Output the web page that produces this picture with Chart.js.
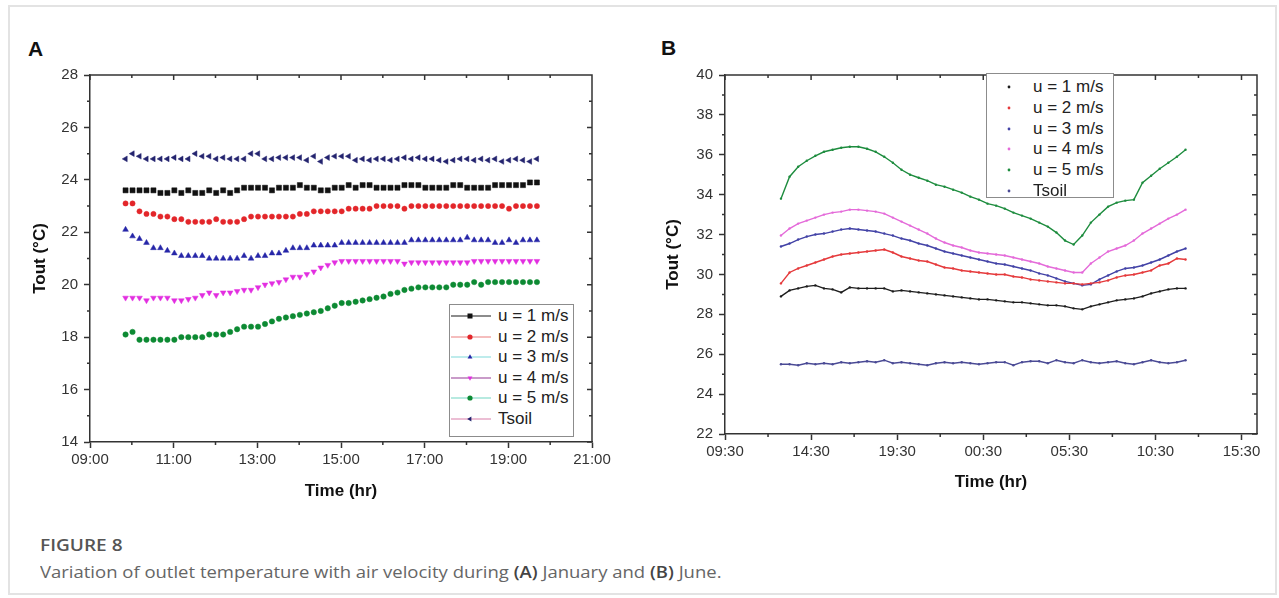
<!DOCTYPE html>
<html>
<head>
<meta charset="utf-8">
<title>Figure 8 - outlet temperature vs air velocity</title>
<script src="https://cdn.jsdelivr.net/npm/chart.js@4.4.1/dist/chart.umd.min.js"></script>
<style>
  html, body { margin: 0; padding: 0; background: #fff; }
  body { width: 1279px; height: 598px; position: relative; overflow: hidden; font-family: 'Liberation Sans', Arial, sans-serif; }
  .card { position: absolute; left: 8px; top: 5px; width: 1269px; height: 590px; border: 2px solid #e3e3e3; box-sizing: border-box; }
  .panel-label { position: absolute; font-weight: bold; font-size: 21px; color: #111; line-height: 1; }
  canvas { position: absolute; }
  .legend { position: absolute; border: 1px solid #8c8c8c; background: #fff; box-sizing: border-box; font-size: 17px; color: #222; }
  .legend .row { height: 20.5px; display: flex; align-items: center; white-space: nowrap; }
  .legend svg { flex: none; }
  .caption-title, .caption { position: absolute; left: 40px; font-family: 'Open Sans', 'Noto Sans', sans-serif; line-height: 20px; transform: scaleX(1.12); transform-origin: left center; white-space: nowrap; }
  .caption-title { top: 535px; font-weight: 600; font-size: 17px; color: #555; }
  .caption { top: 562px; font-size: 16.5px; color: #666; }
  .caption b { color: #444; font-weight: 600; }
</style>
</head>
<body>
<div class="card"></div>
<div class="panel-label" style="left:28px;top:38px">A</div>
<div class="panel-label" style="left:661px;top:37px">B</div>
<canvas id="chartA" width="610" height="450" style="left:20px;top:60px"></canvas>
<canvas id="chartB" width="620" height="450" style="left:655px;top:60px"></canvas>
<div id="legendA" class="legend" style="left:449px;top:304px;width:125px;height:133px;padding-top:1px"></div>
<div id="legendB" class="legend" style="left:986px;top:73px;width:128px;height:125px;padding-top:3px"></div>
<div class="caption-title">FIGURE 8</div>
<div class="caption">Variation of outlet temperature with air velocity during <b>(A)</b> January and <b>(B)</b> June.</div>

<script>
// ---- data: (A) January, 10-min readings ----
const seriesLabels = ['u = 1 m/s', 'u = 2 m/s', 'u = 3 m/s', 'u = 4 m/s', 'u = 5 m/s', 'Tsoil'];

const timesA = [
  '09:51','10:01','10:11','10:21','10:31','10:41','10:51','11:01','11:11','11:21',
  '11:31','11:41','11:51','12:01','12:11','12:21','12:31','12:41','12:51','13:01',
  '13:11','13:21','13:31','13:41','13:51','14:01','14:11','14:21','14:31','14:41',
  '14:51','15:01','15:11','15:21','15:31','15:41','15:51','16:01','16:11','16:21',
  '16:31','16:41','16:51','17:01','17:11','17:21','17:31','17:41','17:51','18:01',
  '18:11','18:21','18:31','18:41','18:51','19:01','19:11','19:21','19:31','19:41'
];
const u1A = [23.6,23.6,23.6,23.6,23.6,23.5,23.5,23.6,23.5,23.6, 23.5,23.5,23.6,23.5,23.6,23.5,23.6,23.7,23.7,23.7,
             23.7,23.6,23.7,23.7,23.7,23.8,23.7,23.7,23.6,23.6, 23.7,23.7,23.8,23.7,23.8,23.8,23.7,23.7,23.7,23.7,
             23.8,23.8,23.8,23.7,23.7,23.7,23.7,23.8,23.8,23.7, 23.7,23.7,23.7,23.8,23.8,23.8,23.8,23.8,23.9,23.9];
const u2A = [23.1,23.1,22.8,22.7,22.7,22.6,22.6,22.5,22.5,22.4, 22.4,22.4,22.4,22.5,22.4,22.4,22.4,22.5,22.6,22.6,
             22.6,22.6,22.6,22.6,22.6,22.7,22.7,22.8,22.8,22.8, 22.8,22.8,22.9,22.9,22.9,22.9,23.0,23.0,23.0,23.0,
             22.9,23.0,23.0,23.0,23.0,23.0,23.0,23.0,23.0,23.0, 23.0,23.0,23.0,23.0,23.0,22.9,23.0,23.0,23.0,23.0];
const u3A = [22.1,21.85,21.75,21.6,21.4,21.4,21.3,21.2,21.1,21.1, 21.1,21.1,21.0,21.0,21.0,21.0,21.0,21.1,21.0,21.1,
             21.1,21.2,21.2,21.3,21.4,21.4,21.4,21.5,21.5,21.5, 21.5,21.6,21.6,21.6,21.6,21.6,21.6,21.6,21.6,21.6,
             21.6,21.7,21.7,21.7,21.7,21.7,21.7,21.7,21.7,21.8, 21.7,21.7,21.7,21.6,21.6,21.7,21.6,21.7,21.7,21.7];
const u4A = [19.5,19.5,19.5,19.4,19.5,19.5,19.5,19.4,19.4,19.45, 19.5,19.6,19.7,19.6,19.7,19.7,19.75,19.8,19.8,19.9,
             20.0,20.05,20.1,20.2,20.3,20.3,20.4,20.5,20.65,20.75, 20.85,20.9,20.9,20.9,20.9,20.9,20.9,20.9,20.9,20.9,
             20.8,20.85,20.85,20.85,20.85,20.85,20.85,20.85,20.85,20.85, 20.9,20.9,20.9,20.9,20.9,20.9,20.9,20.9,20.9,20.9];
const u5A = [18.1,18.2,17.9,17.9,17.9,17.9,17.9,17.9,18.0,18.0, 18.0,18.0,18.1,18.1,18.1,18.2,18.3,18.4,18.4,18.4,
             18.5,18.6,18.7,18.75,18.8,18.85,18.9,18.95,19.0,19.1, 19.2,19.3,19.3,19.35,19.4,19.45,19.5,19.55,19.65,19.7,
             19.8,19.85,19.9,19.9,19.9,19.9,19.9,20.0,20.0,20.0, 20.1,20.0,20.1,20.1,20.1,20.1,20.1,20.1,20.1,20.1];
const soilA = [24.8,25.0,24.9,24.8,24.8,24.8,24.8,24.85,24.8,24.8, 25.0,24.9,24.9,24.8,24.85,24.8,24.8,24.8,25.0,25.0,
               24.8,24.8,24.85,24.85,24.85,24.85,24.75,24.9,24.7,24.85, 24.9,24.9,24.9,24.75,24.8,24.75,24.8,24.8,24.75,24.8,
               24.85,24.8,24.85,24.8,24.8,24.75,24.7,24.75,24.8,24.8, 24.75,24.8,24.75,24.8,24.7,24.75,24.8,24.75,24.7,24.8];

// ---- data: (B) June, half-hourly readings (runs past midnight) ----
const timesB = [
  '12:45','13:15','13:45','14:15','14:45','15:15','15:45','16:15','16:45','17:15','17:45','18:15',
  '18:45','19:15','19:45','20:15','20:45','21:15','21:45','22:15','22:45','23:15','23:45','00:15',
  '00:45','01:15','01:45','02:15','02:45','03:15','03:45','04:15','04:45','05:15','05:45','06:15',
  '06:45','07:15','07:45','08:15','08:45','09:15','09:45','10:15','10:45','11:15','11:45','12:15'
];
const u1B = [28.9,29.2,29.3,29.4,29.45,29.3,29.25,29.1,29.35,29.3, 29.3,29.3,29.3,29.15,29.2,29.15,29.1,29.05,29.0,28.95,
             28.9,28.85,28.8,28.75,28.75,28.7,28.65,28.6,28.6,28.55, 28.5,28.45,28.45,28.4,28.3,28.25,28.4,28.5,28.6,28.7,
             28.75,28.8,28.9,29.05,29.15,29.25,29.3,29.3];
const u2B = [29.55,30.1,30.3,30.45,30.6,30.75,30.9,31.0,31.05,31.1, 31.15,31.2,31.25,31.1,30.9,30.8,30.7,30.65,30.5,30.35,
             30.3,30.2,30.15,30.1,30.05,30.0,30.0,29.9,29.85,29.75, 29.7,29.65,29.6,29.55,29.55,29.5,29.55,29.6,29.7,29.85,
             29.95,30.0,30.1,30.2,30.45,30.55,30.8,30.75];
const u3B = [31.4,31.55,31.75,31.9,32.0,32.05,32.15,32.25,32.3,32.25, 32.2,32.15,32.05,31.95,31.8,31.7,31.55,31.45,31.3,31.15,
             31.05,30.95,30.85,30.75,30.65,30.55,30.5,30.4,30.3,30.2, 30.05,29.95,29.8,29.65,29.55,29.45,29.5,29.75,29.95,30.15,
             30.3,30.35,30.45,30.6,30.75,30.95,31.15,31.3];
const u4B = [31.95,32.3,32.55,32.7,32.85,33.0,33.1,33.15,33.25,33.25, 33.2,33.15,33.05,32.85,32.65,32.45,32.25,32.05,31.8,31.6,
             31.45,31.35,31.2,31.1,31.05,31.0,30.95,30.85,30.75,30.65, 30.55,30.4,30.3,30.2,30.1,30.1,30.55,30.85,31.15,31.3,
             31.45,31.7,32.05,32.3,32.55,32.8,33.0,33.25];
const u5B = [33.8,34.9,35.4,35.7,35.95,36.15,36.25,36.35,36.4,36.4, 36.3,36.15,35.9,35.6,35.25,35.0,34.85,34.7,34.5,34.4,
             34.25,34.1,33.9,33.75,33.55,33.45,33.3,33.1,32.95,32.8, 32.6,32.4,32.1,31.7,31.5,31.95,32.6,33.0,33.4,33.6,
             33.7,33.75,34.6,34.95,35.3,35.6,35.9,36.25];
const soilB = [25.5,25.5,25.45,25.55,25.5,25.55,25.5,25.6,25.55,25.6, 25.65,25.6,25.7,25.55,25.6,25.55,25.5,25.45,25.55,25.6,
               25.55,25.6,25.55,25.5,25.55,25.6,25.6,25.45,25.6,25.65, 25.65,25.55,25.7,25.6,25.55,25.7,25.6,25.55,25.6,25.65,
               25.55,25.5,25.6,25.7,25.6,25.55,25.6,25.7];

// ---- axis ticks (hours; B continues past 24) ----
const xTicksA = [9, 11, 13, 15, 17, 19, 21];
const xMinorA = [10, 12, 14, 16, 18, 20];
const yTicksA = [14, 16, 18, 20, 22, 24, 26, 28];
const yMinorA = [15, 17, 19, 21, 23, 25, 27];
const xTicksB = [9.5, 14.5, 19.5, 24.5, 29.5, 34.5, 39.5];
const xMinorB = [12, 17, 22, 27, 32, 37];
const yTicksB = [22, 24, 26, 28, 30, 32, 34, 36, 38, 40];
const yMinorB = [23, 25, 27, 29, 31, 33, 35, 37, 39];

const FONT = "'Liberation Sans', Arial, sans-serif";

// marker styles per series for panel A (Origin-like symbols)
const markersA = [
  { color: '#111111', shape: 'rect', radius: 3.6, rotation: 0, legendLine: '#666666' },
  { color: '#e3262a', shape: 'circle', radius: 2.6, rotation: 0, legendLine: '#f2a7a7' },
  { color: '#2626a8', shape: 'triangle', radius: 3.3, rotation: 0, legendLine: '#a8e6e6' },
  { color: '#e22ee0', shape: 'triangle', radius: 3.3, rotation: 180, legendLine: '#b77ab7' },
  { color: '#0d8a33', shape: 'circle', radius: 2.7, rotation: 0, legendLine: '#9fe3d6' },
  { color: '#23236e', shape: 'triangle', radius: 3.3, rotation: 270, legendLine: '#e6a9c6' }
];
const colorsB = ['#1c1c1c', '#e5393b', '#4242a6', '#e46ad9', '#1d8c3e', '#4a4a95'];

function toHours(list) {
  let day = 0, prev = -1;
  return list.map(function (s) {
    const parts = s.split(':').map(Number);
    const v = parts[0] + parts[1] / 60;
    if (v + day < prev) day += 24;
    prev = v + day;
    return prev;
  });
}

function hhmm(h) {
  const t = Math.round(h * 60) % (24 * 60);
  return String(Math.floor(t / 60)).padStart(2, '0') + ':' + String(t % 60).padStart(2, '0');
}

function points(xs, ys) {
  return ys.map(function (y, i) { return { x: xs[i], y: y }; });
}

// frame: top/right edges, minor ticks outside, inward ticks on top/right
const frameTicks = {
  id: 'frameTicks',
  afterDraw(chart, args, o) {
    const ctx = chart.ctx, a = chart.chartArea;
    const x = chart.scales.x, y = chart.scales.y;
    const tick = function (x0, y0, x1, y1) { ctx.moveTo(x0, y0); ctx.lineTo(x1, y1); };
    ctx.save();
    ctx.strokeStyle = '#333';
    ctx.lineWidth = 1.5;
    ctx.beginPath();
    ctx.moveTo(a.left, a.top);
    ctx.lineTo(a.right, a.top);
    ctx.lineTo(a.right, a.bottom);
    o.xMinor.forEach(function (v) { const p = x.getPixelForValue(v); tick(p, a.bottom, p, a.bottom + 3); tick(p, a.top, p, a.top + 3); });
    o.xMajor.forEach(function (v) { const p = x.getPixelForValue(v); tick(p, a.top, p, a.top + 5); });
    o.yMinor.forEach(function (v) { const p = y.getPixelForValue(v); tick(a.left, p, a.left - 3, p); tick(a.right, p, a.right - 3, p); });
    o.yMajor.forEach(function (v) { const p = y.getPixelForValue(v); tick(a.right, p, a.right - 5, p); });
    ctx.stroke();
    ctx.restore();
  }
};

function makeChart(id, cfg) {
  return new Chart(document.getElementById(id), {
    type: 'scatter',
    data: { datasets: cfg.datasets },
    options: {
      responsive: false,
      animation: false,
      devicePixelRatio: 1,
      layout: { padding: cfg.padding },
      plugins: {
        legend: { display: false },
        tooltip: { enabled: false },
        frameTicks: { xMajor: cfg.xTicks, xMinor: cfg.xMinor, yMajor: cfg.yTicks, yMinor: cfg.yMinor }
      },
      scales: {
        x: {
          type: 'linear',
          min: cfg.xMin,
          max: cfg.xMax,
          afterBuildTicks: function (s) { s.ticks = cfg.xTicks.map(function (v) { return { value: v }; }); },
          afterFit: function (s) { s.height = cfg.xAxisHeight; },
          ticks: { callback: function (v) { return hhmm(v); }, color: '#333', font: { family: FONT, size: 15 }, padding: 3, maxRotation: 0, autoSkip: false },
          grid: { drawOnChartArea: false, tickLength: 6, tickColor: '#333', tickWidth: 1.5 },
          border: { color: '#333', width: 1.5 },
          title: { display: true, text: 'Time (hr)', color: '#111', font: { family: FONT, size: 17, weight: 'bold' }, padding: { top: 0, bottom: cfg.xTitlePad } }
        },
        y: {
          type: 'linear',
          min: cfg.yMin,
          max: cfg.yMax,
          afterBuildTicks: function (s) { s.ticks = cfg.yTicks.map(function (v) { return { value: v }; }); },
          afterFit: function (s) { s.width = 70; },
          ticks: { color: '#333', font: { family: FONT, size: 15 }, padding: 6 },
          grid: { drawOnChartArea: false, tickLength: 6, tickColor: '#333', tickWidth: 1.5 },
          border: { color: '#333', width: 1.5 },
          title: { display: true, text: 'Tout (°C)', color: '#111', font: { family: FONT, size: 17, weight: 'bold' }, padding: { top: cfg.yTitlePad, bottom: 0 } }
        }
      }
    },
    plugins: [frameTicks]
  });
}

// ---- panel A ----
const hoursA = toHours(timesA);
const valuesA = [u1A, u2A, u3A, u4A, u5A, soilA];
makeChart('chartA', {
  datasets: valuesA.map(function (vals, i) {
    const m = markersA[i];
    return {
      label: seriesLabels[i],
      data: points(hoursA, vals),
      showLine: false,
      pointStyle: m.shape,
      pointRadius: m.radius,
      pointRotation: m.rotation,
      pointBackgroundColor: m.color,
      pointBorderColor: m.color,
      pointBorderWidth: 0.5
    };
  }),
  xMin: 9, xMax: 21, xTicks: xTicksA, xMinor: xMinorA,
  yMin: 14, yMax: 28, yTicks: yTicksA, yMinor: yMinorA,
  padding: { top: 12, right: 38, left: 0, bottom: 0 },
  xAxisHeight: 68, xTitlePad: 8, yTitlePad: 10
});

// ---- panel B ----
const hoursB = toHours(timesB);
const valuesB = [u1B, u2B, u3B, u4B, u5B, soilB];
makeChart('chartB', {
  datasets: valuesB.map(function (vals, i) {
    return {
      label: seriesLabels[i],
      data: points(hoursB, vals),
      showLine: true,
      borderColor: colorsB[i],
      borderWidth: 1.4,
      pointStyle: 'circle',
      pointRadius: 1.2,
      pointBackgroundColor: colorsB[i],
      pointBorderWidth: 0
    };
  }),
  xMin: 9.5, xMax: 40.4, xTicks: xTicksB, xMinor: xMinorB,
  yMin: 22, yMax: 40, yTicks: yTicksB, yMinor: yMinorB,
  padding: { top: 13, right: 18, left: 0, bottom: 0 },
  xAxisHeight: 76, xTitlePad: 17, yTitlePad: 8
});

// ---- HTML legends ----
function markerSvg(m, cx, cy) {
  const r = 2.8;
  if (m.shape === 'rect') return '<rect x="' + (cx - 2.5) + '" y="' + (cy - 2.5) + '" width="5" height="5" fill="' + m.color + '"/>';
  if (m.shape === 'circle') return '<circle cx="' + cx + '" cy="' + cy + '" r="2.6" fill="' + m.color + '"/>';
  const pts = [[0, -r], [r * 0.87, r * 0.5], [-r * 0.87, r * 0.5]].map(function (p) {
    const a = m.rotation * Math.PI / 180;
    return (cx + p[0] * Math.cos(a) - p[1] * Math.sin(a)).toFixed(2) + ',' + (cy + p[0] * Math.sin(a) + p[1] * Math.cos(a)).toFixed(2);
  });
  return '<polygon points="' + pts.join(' ') + '" fill="' + m.color + '"/>';
}

document.getElementById('legendA').innerHTML = seriesLabels.map(function (label, i) {
  const m = markersA[i];
  return '<div class="row"><svg width="48" height="20">' +
    '<line x1="1" y1="10" x2="41" y2="10" stroke="' + m.legendLine + '" stroke-width="1.5"/>' +
    markerSvg(m, 20, 10) + '</svg><span>' + label + '</span></div>';
}).join('');

document.getElementById('legendB').innerHTML = seriesLabels.map(function (label, i) {
  return '<div class="row" style="height:20.7px"><svg width="46" height="20">' +
    '<circle cx="22" cy="10" r="1.4" fill="' + colorsB[i] + '"/></svg><span>' + label + '</span></div>';
}).join('');
</script>
</body>
</html>
